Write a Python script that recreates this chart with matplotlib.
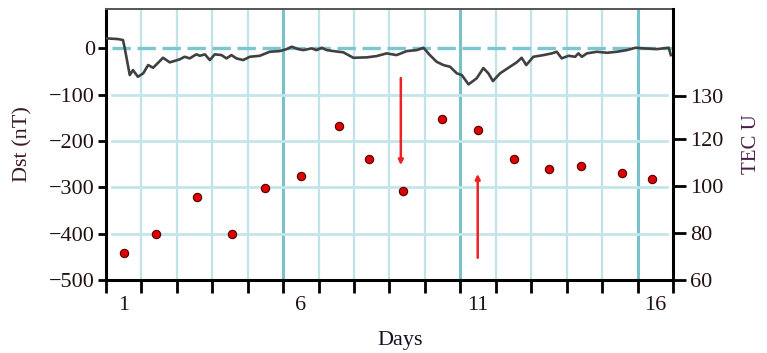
import matplotlib
matplotlib.use("Agg")
import matplotlib.pyplot as plt

plt.rcParams["font.family"] = "serif"
plt.rcParams["font.serif"] = ["Liberation Serif", "DejaVu Serif"]

# Dst index (nT) versus time in days
dst_day = [0.51, 0.84, 0.98, 1.03, 1.17, 1.26, 1.40, 1.55, 1.69, 1.83, 2.11, 2.30,
           2.58, 2.72, 2.86, 3.05, 3.15, 3.29, 3.43, 3.57, 3.76, 3.90, 4.04, 4.18,
           4.37, 4.56, 4.84, 5.12, 5.41, 5.60, 5.74, 5.92, 6.07, 6.30, 6.44, 6.59,
           6.73, 6.91, 7.20, 7.48, 7.86, 8.14, 8.42, 8.70, 8.99, 9.27, 9.46, 9.64,
           9.83, 10.02, 10.21, 10.40, 10.54, 10.73, 10.96, 11.15, 11.29, 11.42, 11.62, 11.90,
           12.09, 12.23, 12.36, 12.56, 12.85, 13.08, 13.22, 13.36, 13.55, 13.74, 13.83, 13.93,
           14.07, 14.35, 14.64, 14.92, 15.20, 15.44, 15.67, 16.05, 16.38, 16.44]
dst_val = [21.6, 20.1, 17.9, 0.0, -57.6, -46.8, -61.3, -53.9, -36.0, -41.9, -20.3, -30.2,
           -23.7, -18.1, -21.6, -12.9, -16.0, -12.9, -25.2, -12.9, -14.5, -21.6, -14.5, -21.6,
           -25.2, -18.1, -16.0, -7.3, -5.8, -1.5, 3.5, -1.5, -3.7, 0.0, -3.7, 1.3,
           -3.7, -5.8, -8.6, -20.3, -19.4, -16.6, -10.8, -14.5, -5.8, -3.7, 1.3, -14.5,
           -28.9, -36.0, -39.7, -53.9, -57.6, -77.7, -64.7, -42.5, -53.9, -70.6, -53.9, -39.7,
           -30.2, -20.3, -36.0, -18.1, -14.5, -10.8, -7.3, -21.6, -16.0, -18.1, -10.8, -18.1,
           -10.8, -7.3, -9.5, -7.3, -3.7, 1.3, 0.0, -1.5, 1.3, -14.5]

# daily TEC values (TEC U)
tec_day = [1.0, 1.9, 3.06, 4.05, 5.0, 6.0, 7.07, 7.92, 8.88, 9.98, 11.0, 12.0, 13.0, 13.9, 15.05, 15.9]
tec_val = [71.5, 79.6, 95.3, 79.6, 99.1, 104.3, 125.5, 111.5, 97.9, 128.5, 123.8, 111.5,
           107.2, 108.5, 105.5, 103.0]

# red arrows (day, Dst start, Dst end)
arrow_day = [8.82, 10.99]
arrow_from = [-64, -452]
arrow_to = [-252, -271]

dst_ticks = [0, -100, -200, -300, -400, -500]
tec_ticks = [60, 80, 100, 120, 138.3]
tec_labels = ["60", "80", "100", "120", "130"]
day_labels = [1, 6, 11, 16]

fig = plt.figure(figsize=(7.67, 3.53), dpi=100)
ax = fig.add_axes([0.1382, 0.2068, 0.7392, 0.7677])
ax.set_xlim(0.5, 16.5)
ax.set_ylim(-500, 85)

# grid
for d in range(1, 17):
    x = d - 0.5
    if d in (6, 11, 16):
        ax.axvline(x, color="#78c3cb", lw=2.2, zorder=1)
    elif d > 1:
        ax.axvline(x, color="#bfe3e8", lw=1.6, zorder=1)
for v in dst_ticks[1:-1]:
    ax.axhline(v, xmin=0.01, xmax=0.99, color="#c3e6ea", lw=2.0, zorder=1)
ax.axhline(0, xmin=0.01, color="#7cc6cf", lw=2.4, dashes=(5.5, 2), zorder=1.5)

ax.plot(dst_day, dst_val, color="#404040", lw=1.9, zorder=3)

for xd, y0, y1 in zip(arrow_day, arrow_from, arrow_to):
    ax.annotate("", xy=(xd, y1), xytext=(xd, y0),
                arrowprops=dict(arrowstyle="-|>", color="#ee2222", lw=1.8,
                                mutation_scale=7, shrinkA=0, shrinkB=0), zorder=4)

ax.set_yticks(dst_ticks)
ax.set_xticks([d - 0.5 for d in range(1, 18)])
ax.set_xticklabels([])
ax.tick_params(axis="y", direction="out", length=6, width=2, labelsize=16, pad=2,
               labelcolor="#221111")
ax.tick_params(axis="x", direction="out", length=9, width=2)
for d in day_labels:
    ax.text(d, -535, str(d), ha="center", va="top", fontsize=16, color="#221111")

for s in ("left", "bottom"):
    ax.spines[s].set_linewidth(2.2)
ax.spines["top"].set_color("#555555")
ax.spines["top"].set_linewidth(1.4)

ax.set_ylabel("Dst (nT)", fontsize=16, color="#3a1a28", labelpad=12)
fig.text(400 / 767, 1 - 341 / 353, "Days", ha="center", va="center", fontsize=16,
         color="#111122")

ax2 = ax.twinx()
ax2.set_ylim(60, 175.3)
ax2.plot(tec_day, tec_val, "o", color="#dd0000", mec="#550000", mew=0.8, ms=6, zorder=5)
ax2.set_yticks(tec_ticks)
ax2.set_yticklabels(tec_labels)
ax2.tick_params(axis="y", direction="out", length=9, width=2, labelsize=16, pad=3,
                labelcolor="#221111")
ax2.spines["right"].set_linewidth(2.2)
ax2.spines["left"].set_visible(False)
ax2.spines["bottom"].set_visible(False)
ax2.spines["top"].set_visible(False)
ax2.set_ylabel("TEC U", fontsize=15, color="#4a1a48", rotation=90, labelpad=14)

fig.savefig("out.png", dpi=100)
